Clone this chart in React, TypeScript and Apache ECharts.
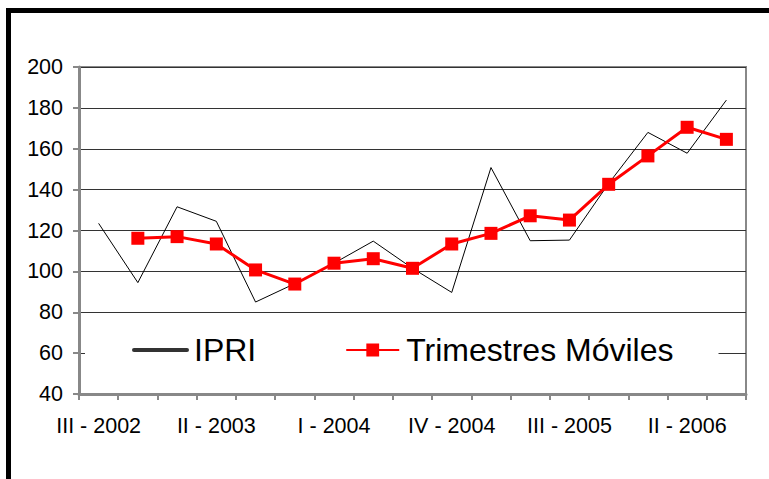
import React, { useEffect, useRef } from "react";
import * as echarts from "echarts";

const categories = [
  "III - 2002", "IV - 2002", "I - 2003", "II - 2003", "III - 2003", "IV - 2003",
  "I - 2004", "II - 2004", "III - 2004", "IV - 2004", "I - 2005", "II - 2005",
  "III - 2005", "IV - 2005", "I - 2006", "II - 2006", "III - 2006",
];
const ipri = [123.5, 94.5, 131.6, 124.5, 85, 94, 104, 114.8, 101.5, 89.7, 150.8, 115, 115.3, 143, 168, 157.8, 183.8];
const trimestres = [null, 116.2, 117, 113.4, 100.7, 93.8, 104, 106.2, 101.5, 113.4, 118.6, 127.2, 125.1, 142.6, 156.5, 170.5, 164.6];
const yTicks = { min: 40, max: 200, interval: 20 };

export default function App() {
  const ref = useRef<HTMLDivElement>(null);
  useEffect(() => {
    const chart = echarts.init(ref.current!, null, { renderer: "svg" });
    const font = "'Liberation Sans', Arial, sans-serif";
    chart.setOption({
      animation: false,
      backgroundColor: "#ffffff",
      textStyle: { fontFamily: font },
      graphic: [
        {
          type: "rect",
          shape: { x: 8.5, y: 10.5, width: 800, height: 500 },
          style: { fill: "none", stroke: "#000", lineWidth: 5 },
          z: 100,
        },
      ],
      grid: {
        left: 79,
        right: 23,
        top: 67,
        bottom: 85,
        show: true,
        borderColor: "#888",
        borderWidth: 2,
      },
      legend: {
        left: 85,
        top: 326,
        width: 632,
        orient: "horizontal",
        backgroundColor: "#ffffff",
        padding: [8, 45, 8, 47],
        itemGap: 89,
        itemWidth: 53,
        itemHeight: 16,
        textStyle: { fontSize: 32, color: "#000", fontFamily: font, padding: [0, 0, 0, 2] },
        data: [
          {
            name: "IPRI",
            lineStyle: { width: 4, color: "#333", cap: "round" },
            itemStyle: { opacity: 0 },
          },
          { name: "Trimestres Móviles", lineStyle: { width: 2, color: "#ff0000" } },
        ],
      },
      xAxis: {
        type: "category",
        data: categories,
        boundaryGap: true,
        axisLine: { show: true, lineStyle: { color: "#888", width: 3 } },
        axisTick: { show: true, interval: 0, length: 6, lineStyle: { color: "#888", width: 2 } },
        axisLabel: { interval: 2, fontSize: 21.5, color: "#000", margin: 21, fontFamily: font },
        splitLine: { show: false },
      },
      yAxis: {
        type: "value",
        min: yTicks.min,
        max: yTicks.max,
        interval: yTicks.interval,
        axisLine: { show: true, lineStyle: { color: "#888", width: 3 } },
        axisTick: { show: true, length: 6, lineStyle: { color: "#888", width: 2 } },
        axisLabel: { fontSize: 21.5, color: "#000", margin: 16, fontFamily: font },
        splitLine: { show: true, lineStyle: { color: "#333", width: 1 } },
      },
      series: [
        {
          name: "IPRI",
          type: "line",
          data: ipri,
          symbol: "none",
          lineStyle: { color: "#000", width: 1 },
          itemStyle: { color: "#333" },
          z: 2,
        },
        {
          name: "Trimestres Móviles",
          type: "line",
          data: trimestres,
          symbol: "rect",
          symbolSize: 13,
          lineStyle: { color: "#ff0000", width: 3 },
          itemStyle: { color: "#ff0000" },
          z: 3,
        },
      ],
    });
    return () => chart.dispose();
  }, []);
  return (
    <div
      ref={ref}
      style={{ position: "absolute", left: 0, top: 0, width: 769, height: 479 }}
    />
  );
}
